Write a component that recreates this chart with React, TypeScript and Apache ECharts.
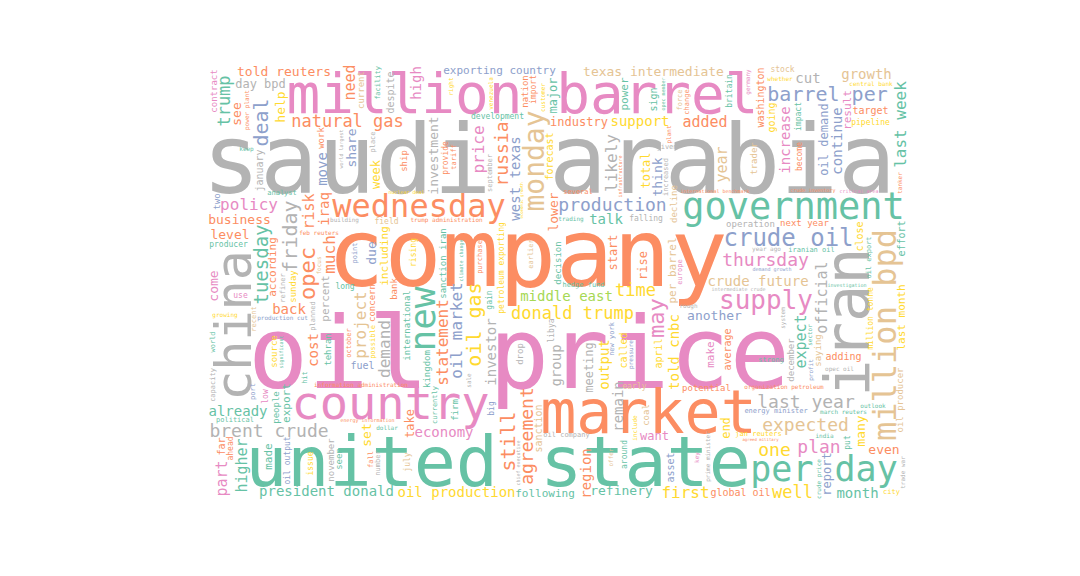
import React, { useEffect, useRef } from "react";
import * as echarts from "echarts";

// [term, frequency (relative weight), colour group, upright(1) / flat(0)]
type Term = [string, number, string, number];

const headlineTerms: Term[] = [
  ["oil price", 100, "P", 0],
  ["saudi arabia", 96, "R", 0],
  ["company", 95, "O", 0],
  ["united state", 70, "T", 0],
  ["million barrel", 64, "P", 0],
  ["iran", 62, "R", 1],
  ["market", 60, "O", 0],
  ["china", 50, "R", 1],
  ["country", 47, "P", 0],
];
const majorTerms: Term[] = [
  ["government", 37, "T", 0], ["new", 36, "T", 1], ["per day", 35, "T", 0], ["wednesday", 32, "O", 0],
  ["million bpd", 32, "N", 0], ["monday", 28, "N", 1], ["supply", 26, "P", 0], ["crude oil", 24, "B", 0],
  ["may", 22, "P", 1], ["opec", 22, "O", 1],
];
const mediumTerms: Term[] = [
  ["oil gas", 20, "Y", 1], ["friday", 20, "R", 1], ["barrel per", 20, "B", 0], ["still", 20, "O", 1],
  ["deal", 20, "B", 1], ["tuesday", 19, "T", 1], ["brent crude", 18, "R", 0], ["production", 18, "B", 0],
  ["expected", 18, "N", 0], ["one", 18, "Y", 0], ["agreement", 18, "O", 1], ["last year", 18, "R", 0],
  ["thursday", 18, "P", 0], ["plan", 18, "P", 0], ["russia", 18, "O", 1], ["trump", 17, "T", 1],
  ["donald trump", 17, "Y", 0], ["natural gas", 17, "O", 0], ["time", 17, "Y", 0], ["well", 17, "Y", 0],
  ["much", 16, "O", 1], ["likely", 16, "R", 1], ["first", 16, "Y", 0], ["policy", 16, "P", 0],
  ["price", 16, "P", 1], ["oil market", 16, "B", 1], ["statement", 16, "O", 1], ["last week", 16, "T", 1],
  ["demand", 16, "R", 1], ["project", 16, "N", 1], ["higher", 15, "T", 1], ["official", 15, "R", 1],
  ["need", 15, "O", 1], ["risk", 15, "O", 1], ["part", 15, "P", 1], ["expect", 15, "T", 1],
  ["added", 15, "O", 0], ["year", 15, "N", 1],
];
const minorTerms: Term[] = [
  ["iraq", 14, "O", 1], ["cost", 14, "O", 1], ["continue", 14, "B", 1], ["cut", 14, "R", 0],
  ["remain", 14, "R", 1], ["president donald", 14, "T", 0], ["already", 14, "T", 0], ["move", 14, "B", 1],
  ["support", 14, "Y", 0], ["group", 14, "R", 1], ["region", 14, "O", 1], ["investor", 14, "R", 1],
  ["back", 14, "O", 0], ["oil production", 14, "Y", 0], ["month", 14, "T", 0], ["talk", 14, "T", 0],
  ["crude future", 14, "N", 1], ["economy", 14, "P", 0], ["west texas", 14, "B", 1], ["told cnbc", 14, "Y", 1],
  ["middle east", 14, "G", 1], ["increase", 14, "P", 1], ["growth", 14, "N", 0], ["told reuters", 14, "O", 0],
  ["high", 14, "P", 1], ["output", 14, "Y", 1], ["investment", 13, "R", 1], ["level", 13, "O", 0],
  ["per barrel", 13, "N", 1], ["texas intermediate", 13, "N", 0], ["exporting country", 13, "B", 0], ["another", 13, "B", 0],
  ["come", 13, "P", 1], ["see", 13, "O", 1], ["lower", 13, "O", 1], ["refinery", 13, "T", 0],
  ["due", 13, "B", 1], ["think", 13, "B", 1], ["set", 13, "Y", 1], ["even", 13, "O", 0],
  ["including", 13, "Y", 1], ["oil demand", 13, "B", 1], ["many", 13, "Y", 1], ["help", 13, "Y", 1],
  ["share", 13, "B", 1], ["business", 13, "O", 0], ["industry", 12, "O", 0], ["day bpd", 12, "R", 0],
  ["take", 12, "O", 1], ["total", 12, "Y", 1], ["meeting", 12, "R", 1], ["major", 12, "T", 1],
  ["start", 12, "O", 1], ["washington", 12, "O", 1], ["according", 12, "O", 1], ["week", 12, "Y", 1],
  ["end", 12, "Y", 1], ["want", 12, "P", 0], ["rise", 12, "O", 1], ["last month", 12, "Y", 1],
  ["report", 12, "B", 1], ["following", 12, "T", 1], ["petroleum exporting", 12, "Y", 0], ["oil producer", 11, "N", 1],
  ["export", 11, "T", 1], ["make", 11, "P", 1], ["made", 11, "T", 1], ["result", 11, "P", 1],
  ["percent", 11, "R", 1], ["power", 11, "T", 1],
];
const smallTerms: Term[] = [
  ["organization petroleum", 10, "O", 0], ["sanction", 10, "N", 1], ["trump administration", 10, "O", 0], ["january", 10, "R", 1],
  ["international", 10, "T", 1], ["forecast", 10, "Y", 1], ["target", 10, "O", 0], ["adding", 10, "O", 0],
  ["far", 10, "O", 1], ["close", 10, "Y", 1], ["called", 10, "Y", 1], ["going", 10, "Y", 1],
  ["effort", 10, "T", 1], ["average", 10, "O", 1], ["sanction iran", 10, "T", 1], ["april", 10, "Y", 1],
  ["despite", 10, "R", 1], ["global oil", 10, "O", 1], ["asset", 10, "B", 1], ["sign", 10, "T", 1],
  ["fuel", 10, "B", 0], ["decline", 9, "N", 1], ["energy minister", 9, "B", 1], ["million tonne", 9, "Y", 0],
  ["coal", 9, "N", 1], ["december", 9, "R", 1], ["potential", 9, "O", 1], ["current", 9, "N", 1],
  ["development", 9, "T", 1], ["firm", 9, "T", 1], ["kingdom", 9, "T", 1], ["operation", 9, "R", 1],
  ["saying", 9, "N", 1], ["november", 9, "R", 1], ["next year", 9, "O", 1], ["decision", 9, "T", 1],
  ["sunday", 9, "Y", 1], ["tehran", 9, "T", 1], ["nation", 9, "O", 1], ["concern", 9, "O", 1],
  ["seen", 9, "T", 1], ["bank", 9, "O", 1], ["two", 9, "B", 1], ["drop", 9, "R", 1],
  ["work", 9, "O", 1], ["source", 9, "Y", 1], ["trader", 9, "N", 1], ["ship", 9, "O", 1],
  ["contract", 9, "P", 1], ["people", 9, "T", 1], ["oil output", 8, "B", 0], ["production cut", 8, "B", 0],
  ["stock", 8, "N", 0], ["falling", 8, "R", 0], ["jan reuters", 8, "Y", 1], ["libya", 8, "R", 1],
  ["gain", 8, "T", 1], ["provide", 8, "O", 1], ["import", 8, "O", 1], ["september", 8, "R", 1],
  ["impact", 8, "T", 1], ["britain", 8, "T", 1], ["put", 8, "T", 1], ["low", 8, "P", 1],
  ["use", 8, "P", 0], ["early", 8, "N", 0], ["field", 8, "N", 0], ["energy information", 8, "O", 0],
  ["pipeline", 8, "Y", 1], ["producer", 8, "T", 1], ["oil export", 8, "T", 1], ["currently", 8, "T", 1],
  ["around", 8, "T", 1], ["ahead", 8, "O", 1], ["july", 8, "N", 1], ["become", 8, "O", 1],
  ["prime minister", 8, "R", 1], ["oil company", 8, "R", 1], ["rising", 8, "Y", 1], ["big", 8, "B", 1],
  ["issue", 8, "Y", 1], ["long", 8, "T", 0],
];
const tinyTerms: Term[] = [
  ["growing", 6, "Y", 0], ["rough", 6, "R", 0], ["recent", 7, "N", 1], ["climate change", 7, "T", 1],
  ["new york", 7, "B", 1], ["power plant", 7, "O", 1], ["number", 7, "R", 1], ["facility", 7, "T", 1],
  ["central bank", 6, "Y", 0], ["opec oil", 6, "R", 0], ["europe", 7, "P", 1], ["year ago", 6, "R", 0],
  ["given", 7, "R", 0], ["building", 6, "R", 0], ["earlier", 7, "N", 1], ["increased", 7, "R", 1],
  ["hit", 7, "T", 1], ["demand growth", 7, "B", 0], ["chief executive", 6, "R", 1], ["strong", 7, "T", 0],
  ["world largest", 6, "R", 1], ["system", 6, "R", 1], ["analyst", 7, "T", 0], ["hedge fund", 7, "T", 0],
  ["purchase", 7, "O", 1], ["city", 7, "Y", 0], ["crude price", 7, "T", 1], ["information administration", 7, "O", 0],
  ["international benchmark", 6, "O", 0], ["place", 7, "R", 1], ["feb reuters", 6, "O", 0], ["several", 7, "O", 0],
  ["india", 6, "T", 0], ["intermediate crude", 6, "R", 0], ["crude inventory", 7, "O", 0], ["october", 7, "O", 1],
  ["trading", 6, "T", 0], ["pressure", 6, "B", 1], ["infrastructure", 6, "O", 1], ["customer", 6, "Y", 1],
  ["agreed military", 6, "O", 0], ["critical area", 5, "P", 0], ["dollar", 6, "T", 0], ["possible", 7, "Y", 1],
  ["change", 7, "O", 1], ["germany", 6, "P", 1], ["include", 6, "Y", 1], ["nuclear deal", 6, "Y", 0],
  ["venezuela", 6, "Y", 1], ["economic growth", 6, "Y", 1], ["investigation", 6, "T", 1], ["right", 6, "Y", 1],
  ["whether", 6, "Y", 0], ["planned", 7, "R", 1], ["port", 7, "B", 1], ["fall", 7, "O", 1],
  ["plant", 6, "O", 1], ["significant", 6, "T", 1], ["capacity", 7, "R", 1], ["force", 7, "N", 1],
  ["political", 7, "T", 1], ["tariff", 7, "O", 1], ["focus", 6, "N", 1], ["opec member", 6, "T", 1],
  ["sector", 6, "T", 1], ["world", 7, "T", 1], ["iranian oil", 7, "T", 1], ["point", 7, "B", 1],
  ["refiner", 7, "R", 1], ["march reuters", 7, "T", 1], ["trade war", 6, "R", 1], ["outlook", 6, "T", 0],
  ["keep", 6, "T", 0], ["tanker", 6, "O", 1], ["profit", 6, "B", 1], ["offer", 6, "N", 1],
  ["key", 6, "P", 1], ["sale", 6, "R", 1],
];

const palette: Record<string, string> = {
  T: "#66c2a5", O: "#fc8d62", B: "#8da0cb", P: "#e78ac3", G: "#a6d854", Y: "#ffd92f", N: "#e5c494", R: "#b3b3b3",
};

const CLOUD_LEFT = 207;
const CLOUD_TOP = 63;
const CLOUD_W = 699;
const CLOUD_H = 437;
const MIN_SIZE = 4;
const MARGIN = 2;
const RANDOM_STATE = 83;
const FONT_FAMILY = '"DejaVu Sans Mono", monospace';

type Placed = { word: string; cx: number; cy: number; size: number; vertical: number; color: string };

// word-cloud layout in the manner of Python's wordcloud: words in order of
// frequency, each at a random free spot found through an integral image
function layoutCloud(terms: Term[], seedInit: number): Placed[] {
  const W = CLOUD_W, H = CLOUD_H, W1 = W + 1;
  const occ = new Uint8Array(W * H);
  const integral = new Int32Array(W1 * (H + 1));
  const spots = new Int32Array(W * H);
  const rebuild = (from: number) => {
    for (let y = from; y < H; y++) {
      let rowSum = 0;
      const o = y * W, r0 = y * W1, r1 = (y + 1) * W1;
      for (let x = 0; x < W; x++) {
        rowSum += occ[o + x];
        integral[r1 + x + 1] = integral[r0 + x + 1] + rowSum;
      }
    }
  };
  let seed = seedInit;
  const rand = () => {
    seed = (seed + 0x6d2b79f5) | 0;
    let t = Math.imul(seed ^ (seed >>> 15), 1 | seed);
    t = (t + Math.imul(t ^ (t >>> 7), 61 | t)) ^ t;
    return ((t ^ (t >>> 14)) >>> 0) / 4294967296;
  };
  const canvas = document.createElement("canvas");
  const ctx = canvas.getContext("2d", { willReadFrequently: true }) as CanvasRenderingContext2D;
  const rasterize = (word: string, size: number, vertical: number) => {
    ctx.font = `${size}px ${FONT_FAMILY}`;
    const tw = Math.ceil(ctx.measureText(word).width) + 8;
    const th = Math.ceil(size * 1.6) + 8;
    const cw = vertical ? th : tw, ch = vertical ? tw : th;
    canvas.width = cw;
    canvas.height = ch;
    ctx.font = `${size}px ${FONT_FAMILY}`;
    ctx.textAlign = "center";
    ctx.textBaseline = "middle";
    ctx.fillStyle = "#000";
    ctx.translate(cw / 2, ch / 2);
    if (vertical) ctx.rotate(-Math.PI / 2);
    ctx.fillText(word, 0, 0);
    ctx.setTransform(1, 0, 0, 1, 0, 0);
    const img = ctx.getImageData(0, 0, cw, ch).data;
    let x0 = cw, y0 = ch, x1 = -1, y1 = -1;
    const ink = new Uint8Array(cw * ch);
    for (let y = 0; y < ch; y++)
      for (let x = 0; x < cw; x++)
        if (img[(y * cw + x) * 4 + 3] > 50) {
          ink[y * cw + x] = 1;
          if (x < x0) x0 = x;
          if (x > x1) x1 = x;
          if (y < y0) y0 = y;
          if (y > y1) y1 = y;
        }
    if (x1 < 0) return null;
    return { cw, ch, ink, x0, y0, x1, y1 };
  };
  const findSpot = (bw: number, bh: number) => {
    const maxX = W - bw, maxY = H - bh;
    if (maxX < 0 || maxY < 0) return null;
    let n = 0;
    for (let y = 0; y <= maxY; y++) {
      const a = y * W1, b = (y + bh) * W1;
      for (let x = 0; x <= maxX; x++) {
        if (integral[b + x + bw] - integral[a + x + bw] - integral[b + x] + integral[a + x] === 0) spots[n++] = y * W + x;
      }
    }
    if (!n) return null;
    const s = spots[Math.floor(rand() * n)];
    return [s % W, Math.floor(s / W)];
  };
  rebuild(0);
  const sorted = terms.slice().sort((a, b) => b[1] - a[1]);
  const placed: Placed[] = [];
  for (const [word, freq, hue, upright] of sorted) {
    let size = Math.round(freq);
    let done = false;
    while (!done && size >= MIN_SIZE) {
      for (const v of upright ? [1, 0] : [0, 1]) {
        const r = rasterize(word, size, v);
        if (!r) continue;
        const bw = r.x1 - r.x0 + 1 + 2 * MARGIN, bh = r.y1 - r.y0 + 1 + 2 * MARGIN;
        const spot = findSpot(bw, bh);
        if (!spot) continue;
        const ox = spot[0] + MARGIN - r.x0, oy = spot[1] + MARGIN - r.y0;
        for (let y = r.y0; y <= r.y1; y++)
          for (let x = r.x0; x <= r.x1; x++)
            if (r.ink[y * r.cw + x]) {
              const gx = ox + x, gy = oy + y;
              if (gx >= 0 && gx < W && gy >= 0 && gy < H) occ[gy * W + gx] = 1;
            }
        rebuild(Math.max(0, oy + r.y0));
        placed.push({ word, cx: ox + r.cw / 2, cy: oy + r.ch / 2, size, vertical: v, color: palette[hue] || "#b3b3b3" });
        done = true;
        break;
      }
      if (!done) size -= size > 20 ? 2 : 1;
    }
  }
  return placed;
}

export default function App() {
  const ref = useRef<HTMLDivElement>(null);
  useEffect(() => {
    if (!ref.current) return;
    let cancelled = false;
    const chart = echarts.init(ref.current, undefined, { renderer: "svg" });
    const draw = () => {
      if (cancelled) return;
      const all = [...headlineTerms, ...majorTerms, ...mediumTerms, ...minorTerms, ...smallTerms, ...tinyTerms];
      const placed = layoutCloud(all, RANDOM_STATE);
      chart.setOption({
        animation: false,
        backgroundColor: "#ffffff",
        grid: { left: CLOUD_LEFT, top: CLOUD_TOP, width: CLOUD_W, height: CLOUD_H, show: false },
        xAxis: { type: "value", min: 0, max: CLOUD_W, show: false },
        yAxis: { type: "value", min: 0, max: CLOUD_H, inverse: true, show: false },
        series: [{
          type: "custom", coordinateSystem: "cartesian2d", silent: true, clip: false,
          data: placed.map((p) => [p.cx, p.cy]),
          renderItem: (params: any, api: any) => {
            const p = placed[params.dataIndex];
            const pt = api.coord([api.value(0), api.value(1)]);
            return {
              type: "text", x: pt[0], y: pt[1], rotation: p.vertical ? Math.PI / 2 : 0,
              style: { text: p.word, fontSize: p.size, fontFamily: FONT_FAMILY, fill: p.color, align: "center", verticalAlign: "middle" },
            };
          },
        }],
      });
    };
    const fonts: any = (document as any).fonts;
    if (fonts && fonts.load) fonts.load(`20px "DejaVu Sans Mono"`).then(draw, draw);
    else draw();
    return () => {
      cancelled = true;
      chart.dispose();
    };
  }, []);
  return <div ref={ref} style={{ position: "fixed", left: 0, top: 0, width: 1080, height: 576, background: "#ffffff" }} />;
}
